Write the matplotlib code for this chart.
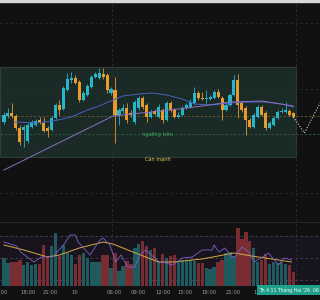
import matplotlib
matplotlib.use("Agg")
import matplotlib.pyplot as plt
from matplotlib.patches import Rectangle
import numpy as np

# candle data (price units), 30-min bars
opens = [178, 184, 187, 184, 172, 170, 159, 173, 175, 180, 177, 172, 170, 182, 195, 191, 210, 220, 222, 218,
         200, 205, 213, 223, 222, 226, 225, 207, 210, 185, 189, 192, 187, 178, 192, 202, 195, 183, 189, 183,
         190, 180, 197, 190, 183, 185, 192, 193, 197, 207, 202, 201, 201, 202, 208, 202, 190, 195, 205, 220,
         197, 192, 180, 173, 183, 193, 187, 172, 175, 182, 188, 188, 189, 187]
closes = [185, 187, 184, 172, 158, 173, 175, 178, 179, 177, 169, 169, 182, 195, 190, 212, 221, 222, 217, 200,
          207, 214, 223, 226, 227, 223, 210, 211, 185, 190, 192, 180, 185, 198, 202, 193, 183, 188, 186, 193,
          180, 197, 190, 183, 185, 192, 195, 198, 207, 202, 201, 202, 203, 208, 203, 190, 195, 205, 220, 195,
          190, 180, 173, 185, 193, 185, 172, 177, 182, 188, 189, 190, 185, 183]
highs = [188, 192, 197, 186, 175, 175, 177, 180, 181, 183, 183, 174, 184, 197, 200, 214, 227, 228, 225, 220,
         209, 216, 225, 228, 232, 232, 227, 213, 223, 192, 196, 197, 190, 200, 204, 204, 197, 190, 191, 196,
         192, 199, 199, 192, 188, 194, 197, 201, 213, 209, 208, 210, 205, 210, 211, 204, 197, 207, 225, 226,
         199, 194, 182, 187, 195, 195, 189, 179, 184, 190, 192, 198, 191, 188]
lows = [176, 182, 182, 170, 155, 153, 157, 172, 174, 176, 168, 163, 169, 181, 185, 190, 209, 217, 216, 198,
        199, 204, 212, 222, 221, 221, 207, 205, 157, 175, 187, 177, 183, 176, 190, 191, 178, 182, 185, 182,
        177, 179, 188, 182, 182, 184, 191, 192, 196, 200, 200, 197, 200, 201, 202, 180, 189, 194, 204, 182,
        188, 165, 172, 172, 182, 184, 170, 171, 174, 181, 187, 187, 184, 182]
volumes = [28, 23, 24, 24, 26, 21, 24, 21, 22, 22, 41, 30, 40, 53, 30, 41, 33, 31, 22, 31,
           33, 28, 24, 24, 24, 31, 31, 18, 33, 15, 20, 25, 22, 38, 42, 45, 40, 36, 38, 25,
           32, 28, 30, 31, 25, 26, 25, 26, 25, 23, 23, 18, 17, 19, 24, 26, 33, 34, 30, 58,
           47, 54, 45, 38, 24, 26, 32, 22, 24, 23, 24, 22, 21, 14]

# indicator lines (bar index, value)
ma_blue_x = [2.5, 8, 12.5, 17, 21, 24, 27.5, 30, 34, 37.5, 41, 45, 48, 52, 57, 62, 66, 70, 73]
ma_blue_y = [178, 177, 179, 183, 190, 194, 200, 204, 206, 207, 205, 201, 196, 195, 197, 198, 198, 196, 193]
ma_purple_x = [0, 27.5, 32, 40, 50, 57, 65, 73]
ma_purple_y = [130, 184, 186, 189, 194, 198, 199, 194]
proj_x = [73, 75.75, 80]
proj_y = [183, 167, 199]

vol_ma_x = [0, 5, 11, 14, 19, 25, 27.5, 32.5, 39, 42.5, 50, 58, 62.5, 67.5, 72.5]
vol_ma_y = [41, 36, 29, 31, 38, 44, 42, 34, 24, 24, 27, 33, 30, 27, 24]
vol_osc_x = [0, 3.2, 4.2, 7.5, 9.5, 12.5, 15, 16.7, 18, 18.7, 21.7, 24.2, 25, 26.7, 28.2, 29.5, 31.2,
             33, 34.2, 35.7, 39.2, 40, 42.5, 45, 47.5, 50, 52.5, 53, 54.2, 55.7, 57.5, 58.2, 60, 61.7, 63.2,
             66.7, 69.2, 70.7, 72.5]
vol_osc_y = [44, 40, 34, 24, 29, 30, 41, 51, 51, 44, 31, 46, 48, 41, 24, 31, 19, 19, 31, 36, 24, 24, 21,
             28, 29, 36, 36, 41, 34, 38, 29, 29, 39, 34, 24, 33, 21, 28, 26]

tick_pos = [-1, 6, 11.75, 17.75, 27.75, 33.75, 40, 45.75, 51.75, 57.75, 63.75]
tick_labels = ["15:00", "18:00", "21:00", "10", "06:00", "09:00", "12:00", "15:00", "18:00", "21:00", "11"]

bg = "#111111"
up_c, down_c = "#26b5c9", "#e89a2c"
vol_up, vol_down = "#1e5a5e", "#7a2c33"

fig = plt.figure(figsize=(3.2, 3.0), dpi=100, facecolor=bg)
fig.add_artist(Rectangle((0, 0.993), 1, 0.007, transform=fig.transFigure, color="#d8d8d8"))

ax = fig.add_axes([0, 79 / 300, 1, 219 / 300], facecolor=bg)
axv = fig.add_axes([0, 14 / 300, 1, 64 / 300], facecolor=bg, sharex=ax)

x = np.arange(len(opens))
o, c, h, l = map(np.array, (opens, closes, highs, lows))
up = c >= o
cols = np.where(up, up_c, down_c)

# zone box + levels
ax.add_patch(Rectangle((-1, 143), 74.75, 90, facecolor="#1a2a27", edgecolor="#2d3d38", lw=0.8, zorder=0))
for yv in [277, 211, 107]:
    ax.axhline(yv, color="#2a2e2e", lw=0.6, ls=(0, (3, 3)), zorder=0.5)
ax.axhline(184, color="#6b5830", lw=0.6, ls=(0, (3, 2)), zorder=0.5)
ax.axhline(166, color="#2f5a38", lw=0.6, ls=(0, (3, 2)), zorder=0.5)
for a in (ax, axv):
    for xv in [27.25, 73.75]:
        a.axvline(xv, color="#2a2e2e", lw=0.6, ls=(0, (3, 3)), zorder=0.5)

ax.vlines(x, l, h, colors=cols, lw=0.6, zorder=2)
ax.bar(x, c - o, bottom=o, width=0.78, color=cols, zorder=3)
ax.plot(ma_blue_x, ma_blue_y, color="#4563c0", lw=0.7, zorder=4)
ax.plot(ma_purple_x, ma_purple_y, color="#8d6fc0", lw=0.7, zorder=4)
ax.plot(proj_x, proj_y, color="#cfcfcf", lw=0.8, ls=(0, (1, 1.5)), zorder=4)

ax.text(38.75, 166, "ngưỡng trên", color="#3fae5a", fontsize=3.6, ha="center", va="center", zorder=5)
ax.text(38.75, 140.3, "Cản mạnh", color="#e8d060", fontsize=3.6, ha="center", va="center", zorder=5)

ax.set_xlim(-0.3, 79.7)
ax.set_ylim(79, 298)
ax.axis("off")

# volume pane
axv.axhspan(0, 50, color="#18141e", zorder=0)
for yv in [50, 28, 6]:
    axv.axhline(yv, color="#4a4558", lw=0.6, ls=(0, (3, 3)), zorder=0.5)
axv.bar(x, volumes, width=0.85, color=np.where(up, vol_up, vol_down), zorder=2)
axv.plot(vol_ma_x, vol_ma_y, color="#d9a840", lw=0.7, zorder=3)
axv.plot(vol_osc_x, vol_osc_y, color="#7b62c8", lw=0.6, zorder=3)
axv.set_ylim(0, 64)
axv.axhline(64, color="#2a2a2a", lw=1.2)
for s in axv.spines.values():
    s.set_visible(False)
axv.set_yticks([])
axv.set_xticks(tick_pos)
axv.set_xticklabels(tick_labels)
axv.tick_params(axis="x", length=0, colors="#9a9a9a", labelsize=3.8, pad=3)

fig.text(0.997, 0.033, "Th 4 11 Tháng Hai '26  06", color="white", fontsize=3.3, ha="right", va="center",
         bbox=dict(boxstyle="square,pad=0.5", facecolor="#1fa08a", edgecolor="none"))

fig.savefig("out.png", dpi=100, facecolor=bg)
